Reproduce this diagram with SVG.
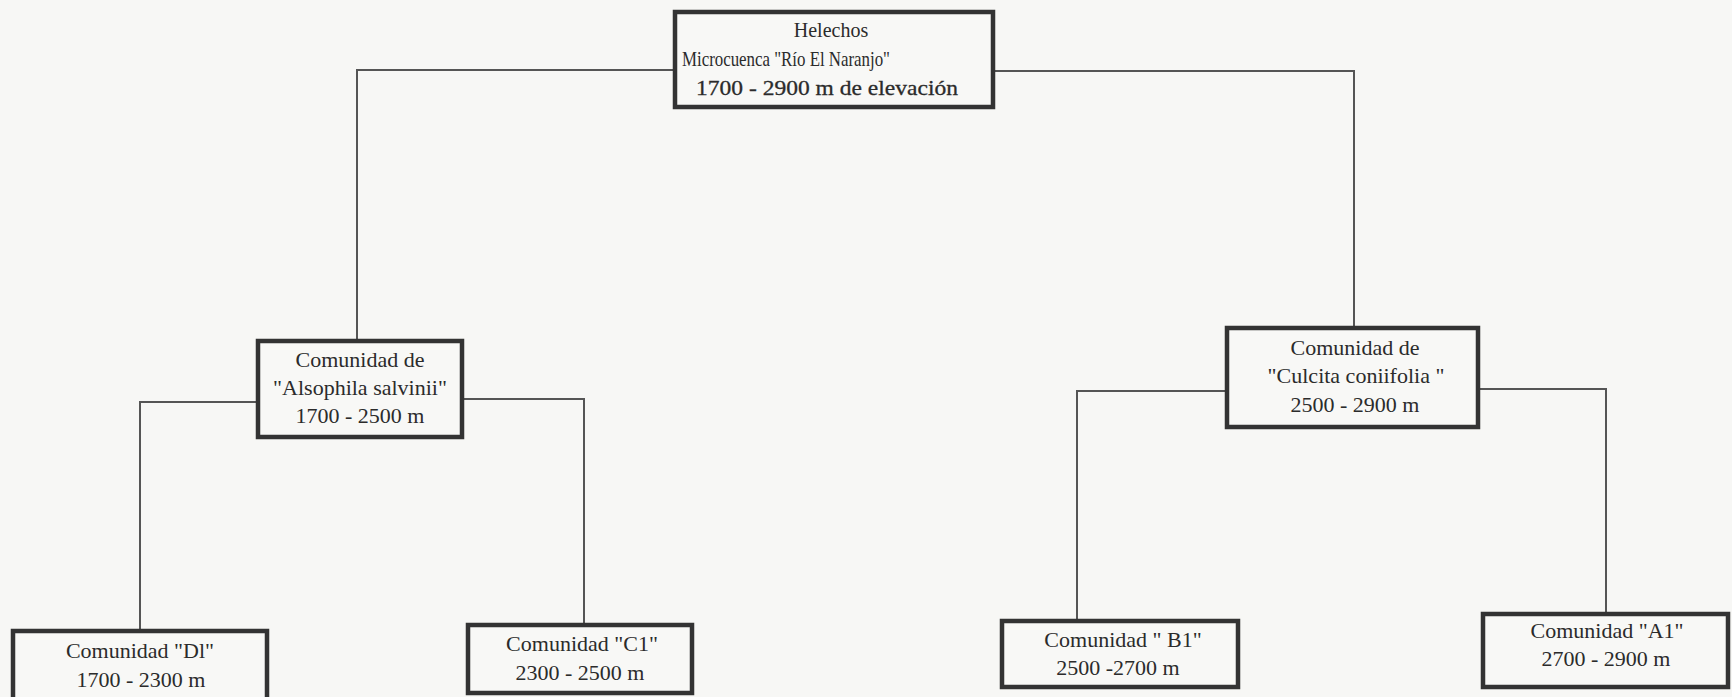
<svg xmlns="http://www.w3.org/2000/svg" width="1732" height="697" viewBox="0 0 1732 697">
<style>
.bg{fill:#f7f7f5}
.box{fill:#f8f8f6;stroke:#333;stroke-width:4.5}
.con{fill:none;stroke:#555;stroke-width:2}
text{font-family:"Liberation Serif","Times New Roman",serif;fill:#2b2b2b;font-size:22px;text-anchor:middle}
.top{font-size:20px}
.heavy{stroke:#2b2b2b;stroke-width:0.3}
</style>
<rect class="bg" x="0" y="0" width="1732" height="697"/>
<g id="connectors">
<polyline class="con" points="675,70 357,70 357,341"/>
<polyline class="con" points="993,71 1354,71 1354,328"/>
<polyline class="con" points="258,402 140,402 140,631"/>
<polyline class="con" points="462,399 584,399 584,625"/>
<polyline class="con" points="1227,391 1077,391 1077,621"/>
<polyline class="con" points="1478,389 1606,389 1606,614"/>
</g>
<g id="root">
<rect class="box" x="675" y="12" width="318" height="95"/>
<text class="top" x="831" y="37">Helechos</text>
<text class="top" x="682" y="66" style="text-anchor:start;font-size:21px" textLength="208" lengthAdjust="spacingAndGlyphs">Microcuenca "Río El Naranjo"</text>
<text class="top heavy" x="696" y="95" style="text-anchor:start;font-size:21px" textLength="262" lengthAdjust="spacingAndGlyphs">1700 - 2900 m de elevación</text>
</g>
<g id="alsophila">
<rect class="box" x="258" y="341" width="204" height="96"/>
<text x="360" y="367">Comunidad de</text>
<text x="360" y="395">"Alsophila salvinii"</text>
<text x="360" y="423">1700 - 2500 m</text>
</g>
<g id="culcita">
<rect class="box" x="1227" y="328" width="251" height="99"/>
<text x="1355" y="355">Comunidad de</text>
<text x="1356" y="383">"Culcita coniifolia "</text>
<text x="1355" y="412">2500 - 2900 m</text>
</g>
<g id="d1">
<rect class="box" x="13" y="631" width="254" height="80"/>
<text x="140" y="658">Comunidad "Dl"</text>
<text x="141" y="687">1700 - 2300 m</text>
</g>
<g id="c1">
<rect class="box" x="468" y="625" width="224" height="68"/>
<text x="582" y="651">Comunidad "C1"</text>
<text x="580" y="680">2300 - 2500 m</text>
</g>
<g id="b1">
<rect class="box" x="1002" y="621" width="236" height="66"/>
<text x="1123" y="647">Comunidad " B1"</text>
<text x="1118" y="675">2500 -2700 m</text>
</g>
<g id="a1">
<rect class="box" x="1483" y="614" width="245" height="73"/>
<text x="1607" y="638">Comunidad "A1"</text>
<text x="1606" y="666">2700 - 2900 m</text>
</g>
</svg>
